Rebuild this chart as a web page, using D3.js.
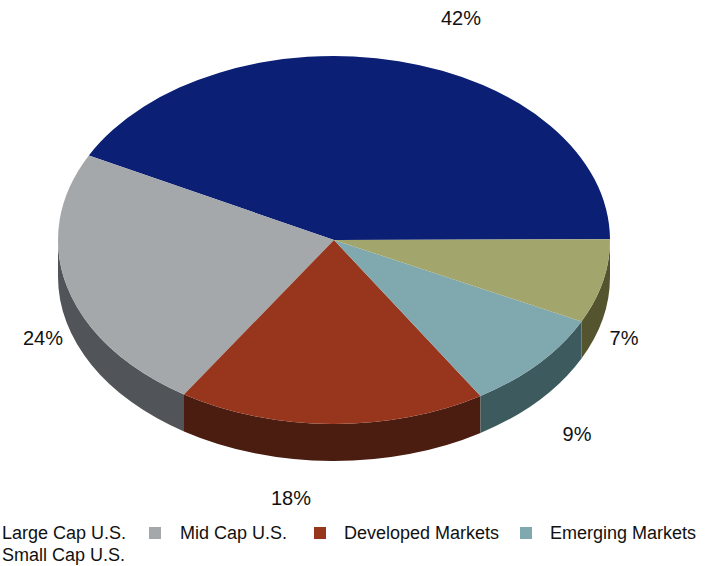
<!DOCTYPE html>
<html>
<head>
<meta charset="utf-8">
<script src="https://cdn.jsdelivr.net/npm/d3@7"></script>
<style>
  html, body { margin: 0; padding: 0; background: #fff; }
  text { font-family: "Liberation Sans", Arial, sans-serif; fill: #111; }
</style>
</head>
<body>
<div id="chart"></div>
<script>
var categories = ["Large Cap U.S.", "Mid Cap U.S.", "Developed Markets", "Emerging Markets", "Small Cap U.S."]
var shares = [42.35, 23.45, 18.05, 8.8, 7.35]
var labels = ["42%", "24%", "18%", "9%", "7%"]

var topColors = ["#0b1f75", "#a4a8ab", "#98361d", "#80a8af", "#a3a66c"]
var sideColors = ["#06103c", "#515559", "#4a1d10", "#3d5a5e", "#54552f"]

var width = 719, height = 566
var cx = 334, cy = 240, rx = 276, ry = 184, depth = 37

// where the percent labels sit, in slice order
var labelX = [461, 43, 291, 577, 624]
var labelY = [18, 338, 498, 434, 338]

var svg = d3.select("#chart").append("svg")
  .attr("width", width)
  .attr("height", height)
  .style("display", "block")

// slices run counter-clockwise from just above 3 o'clock
var start = Math.PI / 2 - 0.0035
var pie = d3.pie()
  .sort(null)
  .startAngle(start)
  .endAngle(start - 2 * Math.PI)

var slices = pie(shares)

var arc = d3.arc().innerRadius(0).outerRadius(rx)

function px(a) { return cx + rx * Math.sin(a) }
function py(a) { return cy - ry * Math.cos(a) }

// front wall of a slice: normalise to 0..2pi clockwise from 12, keep the lower half
function frontWall(d) {
  var a0 = ((d.endAngle % (2 * Math.PI)) + 2 * Math.PI) % (2 * Math.PI)
  var a1 = a0 + (d.startAngle - d.endAngle)
  var s = Math.max(a0, Math.PI / 2)
  var e = Math.min(a1, Math.PI * 1.5)
  if (e <= s) return null
  return "M" + px(s) + "," + py(s) +
    "A" + rx + "," + ry + " 0 0 1 " + px(e) + "," + py(e) +
    "L" + px(e) + "," + (py(e) + depth) +
    "A" + rx + "," + ry + " 0 0 0 " + px(s) + "," + (py(s) + depth) + "Z"
}

svg.append("g").selectAll("path")
  .data(slices)
  .enter()
  .append("path")
  .attr("d", frontWall)
  .attr("fill", function(d, i) { return sideColors[i] })

svg.append("g")
  .attr("transform", "translate(" + cx + "," + cy + ") scale(1," + (ry / rx) + ")")
  .selectAll("path")
  .data(slices)
  .enter()
  .append("path")
  .attr("d", arc)
  .attr("fill", function(d, i) { return topColors[i] })

svg.append("g").selectAll("text")
  .data(labels)
  .enter()
  .append("text")
  .attr("x", function(d, i) { return labelX[i] })
  .attr("y", function(d, i) { return labelY[i] })
  .attr("dy", "0.35em")
  .attr("text-anchor", "middle")
  .style("font-size", "20px")
  .text(function(d) { return d })

// legend: first row wraps and the first swatch of each row is cut off on the left
var legendX = [2, 180, 344, 550, 2]
var legendY = [533, 533, 533, 533, 555]
var swatchX = [null, 149, 314, 520, null]

var legend = svg.append("g").selectAll("g")
  .data(categories)
  .enter()
  .append("g")

legend.filter(function(d, i) { return swatchX[i] !== null })
  .append("rect")
  .attr("x", function(d) { return swatchX[categories.indexOf(d)] })
  .attr("y", 527)
  .attr("width", 12)
  .attr("height", 12)
  .attr("fill", function(d) { return topColors[categories.indexOf(d)] })

legend.append("text")
  .attr("x", function(d, i) { return legendX[i] })
  .attr("y", function(d, i) { return legendY[i] })
  .attr("dy", "0.35em")
  .style("font-size", "18px")
  .text(function(d) { return d })
</script>
</body>
</html>
